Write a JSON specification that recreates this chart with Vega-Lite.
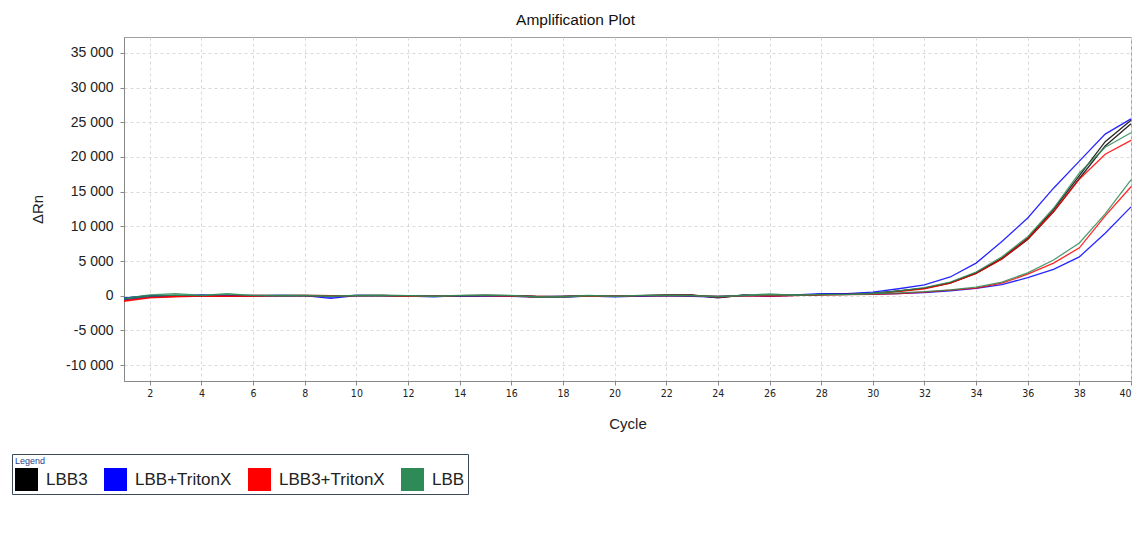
{
  "$schema": "https://vega.github.io/schema/vega-lite/v6.json",
  "autosize": "none",
  "padding": {"left": 124, "top": 37, "right": 10, "bottom": 164},
  "width": 1007,
  "height": 344,
  "background": "white",
  "title": {"text": "Amplification Plot", "fontSize": 15.5, "fontWeight": "normal", "font": "Liberation Sans", "color": "#111", "anchor": "middle", "dx": -52, "offset": 9},
  "config": {"view": {"stroke": "#a0a0a0", "strokeWidth": 1}, "font": "Liberation Sans"},
  "datasets": {
    "amp": [
      {"c":1,"A":-500,"B":-400,"C":-300,"D":-600,"E":-800,"F":-700,"G":-400,"H":-500},
      {"c":2,"A":-100,"B":0,"C":0,"D":-200,"E":-300,"F":-250,"G":100,"H":-50},
      {"c":3,"A":-50,"B":0,"C":-100,"D":-100,"E":-150,"F":-100,"G":300,"H":100},
      {"c":4,"A":0,"B":50,"C":-50,"D":100,"E":-50,"F":0,"G":50,"H":0},
      {"c":5,"A":-100,"B":-50,"C":0,"D":0,"E":-100,"F":-50,"G":300,"H":200},
      {"c":6,"A":0,"B":0,"C":50,"D":-50,"E":50,"F":-100,"G":0,"H":50},
      {"c":7,"A":50,"B":0,"C":0,"D":50,"E":0,"F":0,"G":50,"H":0},
      {"c":8,"A":0,"B":50,"C":0,"D":0,"E":0,"F":50,"G":0,"H":50},
      {"c":9,"A":-100,"B":0,"C":-400,"D":-200,"E":-100,"F":0,"G":-50,"H":-100},
      {"c":10,"A":50,"B":0,"C":0,"D":50,"E":0,"F":0,"G":50,"H":0},
      {"c":11,"A":50,"B":50,"C":0,"D":0,"E":0,"F":0,"G":0,"H":50},
      {"c":12,"A":0,"B":-50,"C":-100,"D":-50,"E":-100,"F":-50,"G":0,"H":0},
      {"c":13,"A":-50,"B":-100,"C":-50,"D":-150,"E":-50,"F":-100,"G":-50,"H":-100},
      {"c":14,"A":-50,"B":0,"C":-100,"D":0,"E":0,"F":0,"G":50,"H":0},
      {"c":15,"A":0,"B":50,"C":0,"D":-50,"E":50,"F":0,"G":0,"H":100},
      {"c":16,"A":0,"B":0,"C":-100,"D":0,"E":0,"F":-50,"G":50,"H":0},
      {"c":17,"A":-150,"B":-100,"C":-200,"D":-150,"E":-100,"F":-200,"G":-200,"H":-150},
      {"c":18,"A":-100,"B":-150,"C":-200,"D":-100,"E":-150,"F":-100,"G":-100,"H":-200},
      {"c":19,"A":0,"B":-50,"C":-50,"D":0,"E":0,"F":-50,"G":50,"H":0},
      {"c":20,"A":-50,"B":-100,"C":-150,"D":-100,"E":-50,"F":-100,"G":-100,"H":-50},
      {"c":21,"A":0,"B":0,"C":-50,"D":-50,"E":0,"F":0,"G":50,"H":0},
      {"c":22,"A":100,"B":50,"C":0,"D":0,"E":50,"F":0,"G":50,"H":50},
      {"c":23,"A":100,"B":50,"C":-100,"D":-50,"E":0,"F":50,"G":0,"H":0},
      {"c":24,"A":-300,"B":-200,"C":-200,"D":-100,"E":-200,"F":-100,"G":-150,"H":-100},
      {"c":25,"A":100,"B":0,"C":0,"D":50,"E":0,"F":0,"G":50,"H":0},
      {"c":26,"A":0,"B":50,"C":0,"D":-100,"E":-50,"F":0,"G":250,"H":100},
      {"c":27,"A":50,"B":50,"C":100,"D":50,"E":0,"F":50,"G":50,"H":100},
      {"c":28,"A":200,"B":150,"C":300,"D":200,"E":150,"F":100,"G":200,"H":150},
      {"c":29,"A":200,"B":250,"C":300,"D":200,"E":200,"F":150,"G":150,"H":200},
      {"c":30,"A":300,"B":350,"C":500,"D":200,"E":300,"F":200,"G":350,"H":250},
      {"c":31,"A":700,"B":650,"C":1000,"D":300,"E":600,"F":300,"G":700,"H":400},
      {"c":32,"A":1100,"B":1050,"C":1550,"D":450,"E":1000,"F":500,"G":1150,"H":600},
      {"c":33,"A":1900,"B":1800,"C":2700,"D":700,"E":1800,"F":800,"G":1950,"H":850},
      {"c":34,"A":3300,"B":3200,"C":4700,"D":1050,"E":3200,"F":1100,"G":3400,"H":1250},
      {"c":35,"A":5400,"B":5300,"C":7800,"D":1600,"E":5300,"F":1800,"G":5600,"H":1950},
      {"c":36,"A":8300,"B":8100,"C":11200,"D":2600,"E":8200,"F":3100,"G":8500,"H":3300},
      {"c":37,"A":12400,"B":12100,"C":15500,"D":3800,"E":12100,"F":4700,"G":12600,"H":5150},
      {"c":38,"A":17300,"B":16900,"C":19400,"D":5600,"E":16800,"F":6900,"G":17700,"H":7600},
      {"c":39,"A":22200,"B":21600,"C":23300,"D":9000,"E":20400,"F":11500,"G":21400,"H":11800},
      {"c":40,"A":25300,"B":24800,"C":25500,"D":12800,"E":22400,"F":15700,"G":23500,"H":16700}
    ],
    "wells": [
      {"well":"A","sample":"LBB3"},
      {"well":"B","sample":"LBB3"},
      {"well":"C","sample":"LBB+TritonX"},
      {"well":"D","sample":"LBB+TritonX"},
      {"well":"E","sample":"LBB3+TritonX"},
      {"well":"F","sample":"LBB3+TritonX"},
      {"well":"G","sample":"LBB"},
      {"well":"H","sample":"LBB"}
    ]
  },
  "data": {"name": "amp"},
  "transform": [
    {"fold": ["A","B","C","D","E","F","G","H"], "as": ["well","v"]},
    {"lookup": "well", "from": {"data": {"name": "wells"}, "key": "well", "fields": ["sample"]}}
  ],
  "mark": {"type": "line", "strokeWidth": 1.3, "strokeOpacity": 0.85, "interpolate": "linear"},
  "encoding": {
    "x": {"field": "c", "type": "quantitative",
      "scale": {"domain": [1, 40], "nice": false, "zero": false},
      "axis": {"title": "Cycle", "values": [2,4,6,8,10,12,14,16,18,20,22,24,26,28,30,32,34,36,38,40],
        "labelFont": "DejaVu Sans Condensed, Liberation Sans", "labelFontSize": 10.5, "labelColor": "#222", "labelPadding": 3,
        "tickSize": 4, "tickColor": "#888", "domainColor": "#888",
        "grid": true, "gridDash": [3,3], "gridColor": "#d8d8d8",
        "titleFont": "Liberation Sans", "titleFontSize": 15, "titleFontWeight": "normal", "titleColor": "#222", "titlePadding": 18}},
    "y": {"field": "v", "type": "quantitative",
      "scale": {"domain": [-12300, 37300], "nice": false, "zero": false},
      "axis": {"title": "ΔRn", "values": [-10000,-5000,0,5000,10000,15000,20000,25000,30000,35000],
        "labelExpr": "replace(replace(format(datum.value, ','), ',', ' '), '−', '-')",
        "labelFont": "Liberation Sans", "labelFontSize": 14, "labelColor": "#222", "labelPadding": 7,
        "tickSize": 4, "tickColor": "#888", "domainColor": "#888",
        "grid": true, "gridDash": [3,3], "gridColor": "#d8d8d8",
        "titleFont": "Liberation Sans", "titleFontSize": 15, "titleFontWeight": "normal", "titleColor": "#222", "titlePadding": 20}},
    "color": {"field": "sample", "type": "nominal",
      "scale": {"domain": ["LBB3","LBB+TritonX","LBB3+TritonX","LBB"], "range": ["#000000","#0000ff","#ff0000","#2e8b57"]},
      "legend": {"orient": "none", "legendX": -112, "legendY": 417, "direction": "horizontal",
        "title": "Legend", "titleFont": "Liberation Sans", "titleFontSize": 9, "titleFontWeight": "normal", "titleColor": "#1f3f8f", "titlePadding": 2,
        "symbolType": "square", "symbolSize": 529, "symbolStrokeWidth": 0,
        "labelFont": "Liberation Sans", "labelFontSize": 17, "labelColor": "#222", "labelOffset": 8, "columnPadding": 16,
        "padding": 3, "strokeColor": "#3a4a5a",
        "encode": {"symbols": {"update": {"fill": {"scale": "color", "field": "value"}, "fillOpacity": {"value": 1}, "opacity": {"value": 1}}}}}},
    "detail": {"field": "well", "type": "nominal"}
  }
}
